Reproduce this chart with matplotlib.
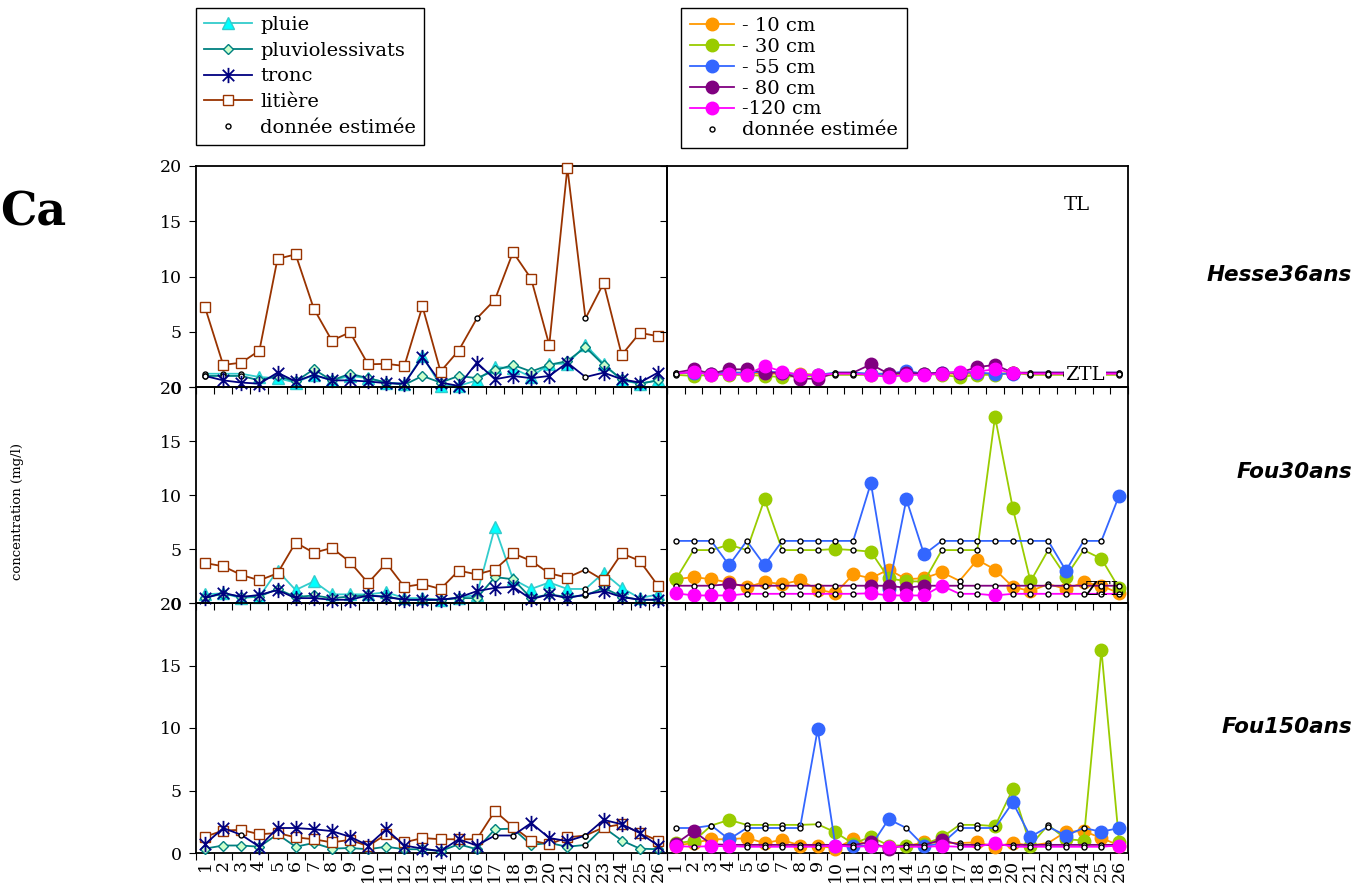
import numpy as np
import matplotlib
matplotlib.use('Agg')
import matplotlib.pyplot as plt
from matplotlib.lines import Line2D
from matplotlib.path import Path

plt.rcParams['font.family'] = ['DejaVu Serif']

x = np.arange(1, 27)

# --- Hesse36ans (gauche) : apports
h36_pluie = [1.2, 1.2, 1.2, 0.9, 0.8, 0.4, 1.1, 0.6, 1.0, 0.8, 0.4, 0.3, 2.8, 0.1, 0.1, 0.6, 1.8, 1.7, 0.9, 2.1, 2.1, 3.8, 2.1, 0.6, 0.3, 0.6]
h36_pluvio = [1.0, 1.0, 1.0, 0.6, 1.0, 0.5, 1.6, 0.6, 1.2, 0.8, 0.4, 0.2, 1.0, 0.4, 1.0, 0.8, 1.5, 2.0, 1.4, 2.0, 2.35, 3.6, 2.0, 0.7, 0.3, 0.6]
h36_tronc = [1.0, 0.6, 0.4, 0.3, 1.3, 0.5, 1.1, 0.6, 0.6, 0.5, 0.35, 0.3, 2.7, 0.4, 0.1, 2.2, 0.7, 1.0, 0.8, 1.0, 2.2, 0.9, 1.3, 0.7, 0.4, 1.3]
h36_litiere = [7.2, 2.0, 2.2, 3.3, 11.6, 12.0, 7.1, 4.2, 4.95, 2.05, 2.1, 1.9, 7.3, 1.4, 3.3, 6.2, 7.9, 12.2, 9.8, 3.8, 19.85, 6.2, 9.4, 2.9, 4.9, 4.6]
h36_pluie_est = [1, 2, 3]
h36_pluvio_est = [1, 2, 3]
h36_tronc_est = [1, 22]
h36_litiere_est = [16, 22]

# --- Fou30ans (gauche)
f30_pluie = [0.8, 0.9, 0.45, 0.6, 3.0, 1.2, 2.0, 0.8, 0.8, 0.8, 1.0, 0.45, 0.45, 0.3, 0.5, 0.75, 7.0, 2.2, 1.3, 1.9, 1.3, 1.3, 2.8, 1.4, 0.45, 0.8]
f30_pluvio = [0.5, 0.85, 0.6, 0.6, 1.3, 0.55, 0.7, 0.45, 0.6, 0.7, 0.6, 0.3, 0.25, 0.3, 0.45, 0.45, 2.4, 2.2, 0.45, 0.8, 0.55, 0.7, 1.4, 0.6, 0.3, 0.3]
f30_tronc = [0.45, 0.95, 0.55, 0.75, 1.2, 0.45, 0.45, 0.3, 0.3, 0.7, 0.55, 0.3, 0.3, 0.3, 0.5, 1.1, 1.4, 1.5, 0.35, 0.8, 0.45, 0.8, 1.1, 0.55, 0.3, 0.3]
f30_litiere = [3.7, 3.4, 2.6, 2.1, 2.75, 5.6, 4.65, 5.1, 3.8, 1.85, 3.7, 1.5, 1.75, 1.3, 3.0, 2.65, 3.1, 4.6, 3.9, 2.75, 2.35, 3.1, 2.1, 4.6, 3.9, 1.6]
f30_gauche_est = [22]

# --- Fou150ans (gauche)
f150_pluvio = [0.35, 0.6, 0.6, 0.5, 1.5, 0.5, 0.8, 0.35, 0.4, 0.3, 0.5, 0.3, 0.3, 0.15, 0.7, 0.3, 1.9, 1.95, 0.65, 0.8, 0.5, 0.65, 2.05, 1.0, 0.35, 0.3]
f150_tronc = [0.7, 2.0, 1.45, 0.5, 2.0, 2.0, 1.9, 1.75, 1.3, 0.6, 1.9, 0.6, 0.35, 0.15, 1.1, 0.6, 1.4, 1.4, 2.4, 1.2, 0.95, 1.4, 2.65, 2.3, 1.6, 0.6]
f150_litiere = [1.3, 1.8, 1.85, 1.5, 1.6, 1.25, 1.1, 0.85, 1.05, 0.55, 1.5, 0.85, 1.2, 1.1, 1.1, 1.1, 3.35, 2.1, 1.0, 0.7, 1.25, 1.4, 2.05, 2.3, 1.6, 1.0]
f150_pluvio_est = [22]
f150_tronc_est = [3, 17, 18, 22]
f150_litiere_est = [22]

# --- Hesse36ans (droite) : solutions du sol
h36_10 = [1.2, 1.3, 1.2, 1.3, 1.3, 1.2, 1.2, 1.2, 1.1, 1.2, 1.2, 1.2, 1.2, 1.2, 1.2, 1.2, 1.2, 1.2, 1.2, 1.25, 1.2, 1.2, 1.2, 1.2, 1.2, 1.2]
h36_30 = [1.1, 1.0, 1.1, 1.1, 1.1, 1.0, 0.9, 1.0, 1.0, 1.1, 1.1, 1.1, 1.1, 1.1, 1.2, 1.1, 0.9, 1.1, 1.1, 1.3, 1.1, 1.1, 1.1, 1.1, 1.1, 1.1]
h36_55 = [1.3, 1.3, 1.2, 1.3, 1.3, 1.4, 1.3, 1.1, 1.1, 1.3, 1.3, 1.2, 1.2, 1.45, 1.2, 1.3, 1.3, 1.3, 1.2, 1.2, 1.3, 1.3, 1.3, 1.3, 1.3, 1.3]
h36_80 = [1.3, 1.6, 1.2, 1.6, 1.6, 1.3, 1.3, 0.75, 0.75, 1.3, 1.3, 2.05, 1.2, 1.3, 1.2, 1.3, 1.3, 1.8, 2.0, 1.3, 1.3, 1.3, 1.3, 1.3, 1.3, 1.3]
h36_120 = [1.2, 1.4, 1.1, 1.2, 1.1, 1.9, 1.4, 1.1, 1.1, 1.2, 1.2, 1.1, 0.9, 1.1, 1.1, 1.2, 1.4, 1.4, 1.6, 1.3, 1.2, 1.2, 1.2, 1.2, 1.2, 1.2]
h36_sol_est = [1, 10, 11, 21, 22, 23, 24, 25, 26]

# --- Fou30ans (droite)
f30_10 = [2.2, 2.4, 2.2, 1.9, 1.45, 1.95, 1.75, 2.1, 1.25, 0.9, 2.65, 2.3, 3.1, 2.2, 2.3, 2.85, 2.05, 4.0, 3.1, 1.5, 1.1, 1.75, 1.3, 1.9, 1.6, 0.9]
f30_30 = [2.2, 4.9, 4.9, 5.4, 4.9, 9.6, 4.9, 4.9, 4.9, 5.0, 4.9, 4.75, 2.3, 2.0, 2.0, 4.9, 4.9, 4.9, 17.25, 8.8, 2.0, 4.9, 2.45, 4.9, 4.1, 1.35]
f30_55 = [5.75, 5.75, 5.75, 3.5, 5.75, 3.5, 5.75, 5.75, 5.75, 5.75, 5.75, 11.1, 1.3, 9.6, 4.5, 5.75, 5.75, 5.75, 5.75, 5.75, 5.75, 5.75, 3.0, 5.75, 5.75, 9.95]
f30_80 = [1.6, 1.6, 1.6, 1.75, 1.6, 1.6, 1.6, 1.6, 1.6, 1.6, 1.6, 1.6, 1.6, 1.4, 1.6, 1.6, 1.6, 1.6, 1.6, 1.6, 1.6, 1.6, 1.6, 1.6, 1.6, 1.6]
f30_120 = [0.9, 0.7, 0.7, 0.7, 0.85, 0.85, 0.85, 0.85, 0.85, 0.85, 0.85, 0.9, 0.7, 0.7, 0.7, 1.6, 0.85, 0.85, 0.7, 0.85, 0.85, 0.85, 0.85, 0.85, 0.85, 0.85]
f30_10_est = [17, 22]
f30_30_est = [2, 3, 5, 7, 8, 9, 11, 16, 17, 18, 22, 24]
f30_55_est = [1, 2, 3, 5, 7, 8, 9, 10, 11, 16, 17, 18, 19, 20, 21, 22, 24, 25]
f30_80_est = [1, 2, 3, 5, 6, 7, 8, 9, 10, 11, 16, 17, 18, 19, 20, 21, 22, 23, 24, 25, 26]
f30_120_est = [5, 6, 7, 8, 9, 10, 11, 17, 18, 20, 21, 22, 23, 24, 25, 26]

# --- Fou150ans (droite)
f150_10 = [0.6, 0.8, 1.1, 1.1, 1.2, 0.8, 1.05, 0.6, 0.6, 0.35, 1.1, 0.6, 0.5, 0.55, 0.85, 0.8, 0.8, 0.85, 0.5, 0.8, 0.6, 0.8, 1.7, 1.75, 1.2, 0.6]
f150_30 = [0.8, 0.95, 2.2, 2.65, 2.25, 2.25, 2.25, 2.25, 2.3, 1.65, 0.75, 1.3, 0.6, 0.6, 0.7, 1.25, 2.25, 2.25, 2.15, 5.1, 0.6, 2.25, 1.1, 1.0, 16.25, 0.85]
f150_55 = [2.0, 2.0, 2.2, 1.1, 2.0, 2.0, 2.0, 2.0, 9.9, 0.55, 0.6, 0.55, 2.7, 2.0, 0.55, 0.75, 2.0, 2.0, 2.0, 4.05, 1.3, 2.1, 1.4, 2.0, 1.7, 2.0]
f150_80 = [0.75, 1.75, 0.7, 0.65, 0.65, 0.65, 0.65, 0.65, 0.65, 0.65, 0.65, 0.85, 0.35, 0.65, 0.65, 1.05, 0.65, 0.65, 0.65, 0.65, 0.65, 0.65, 0.65, 0.65, 0.65, 0.65]
f150_120 = [0.55, 0.5, 0.55, 0.55, 0.5, 0.5, 0.5, 0.5, 0.5, 0.6, 0.5, 0.55, 0.5, 0.5, 0.5, 0.55, 0.5, 0.5, 0.8, 0.5, 0.5, 0.5, 0.5, 0.5, 0.5, 0.6]
f150_10_est = [14, 16, 17, 21, 22]
f150_30_est = [3, 5, 6, 7, 8, 9, 17, 18, 22]
f150_55_est = [1, 2, 3, 5, 6, 7, 8, 14, 17, 18, 19, 22, 24]
f150_80_est = [3, 4, 5, 6, 7, 8, 9, 10, 11, 14, 15, 17, 18, 19, 20, 21, 22, 23, 24, 25, 26]
f150_120_est = [2, 5, 6, 7, 8, 9, 11, 14, 15, 17, 18, 20, 21, 22, 23, 24, 25]

sites = ['Hesse36ans', 'Fou30ans', 'Fou150ans']
profondeurs = ['- 10 cm', '- 30 cm', '- 55 cm', '- 80 cm', '-120 cm']

# marqueur "étoile" d'Excel : croix + trait vertical
star = Path([(0, -1), (0, 1), (-0.75, -0.75), (0.75, 0.75), (-0.75, 0.75), (0.75, -0.75)],
            [Path.MOVETO, Path.LINETO] * 3)

st_pluie = dict(color='#33CCCC', marker='^', ms=8, mfc='#00FFFF', mec='#33CCCC', mew=1)
st_pluvio = dict(color='#008080', marker='D', ms=5, mfc='#CCFFCC', mec='#008080', mew=1)
st_tronc = dict(color='#000080', marker=star, ms=11, mfc='none', mec='#000080', mew=1.3)
st_litiere = dict(color='#993300', marker='s', ms=7, mfc='white', mec='#993300', mew=1)
col_sol = ['#FF9900', '#99CC00', '#3366FF', '#800080', '#FF00FF']


def trace(ax, vals, est, st, z):
    v = np.array(vals)
    m = np.ones(len(v), bool)
    m[np.array(est, int) - 1] = False
    ax.plot(x, v, color=st['color'], lw=1.3, zorder=z, clip_on=False)
    ax.plot(x[m], v[m], ls='none', marker=st['marker'], ms=st['ms'], mfc=st['mfc'],
            mec=st['mec'], mew=st['mew'], zorder=z, clip_on=False)
    ax.plot(x[~m], v[~m], ls='none', marker='o', ms=3.6, mfc='white', mec='black',
            mew=1, zorder=z + 0.5, clip_on=False)


def sol(c):
    return dict(color=c, marker='o', ms=9, mfc=c, mec=c, mew=1)


W, H = 1371, 891


def box(l, t, r, b):
    return [l / W, 1 - b / H, (r - l) / W, (b - t) / H]


rows = [(166, 387), (387, 603), (603, 853)]
cols = [(196, 667), (667, 1128)]

fig = plt.figure(figsize=(13.71, 8.91), dpi=100)
axes = []
for i, (t, b) in enumerate(rows):
    row = []
    for j, (l, r) in enumerate(cols):
        ax = fig.add_axes(box(l, t, r, b))
        ax.set_xlim(0.5, 26.5)
        ax.set_ylim(0, 20)
        ax.set_yticks([0, 5, 10, 15, 20])
        ax.set_xticks(np.arange(0.5, 27, 1))
        ax.set_xticks(x, minor=True)
        ax.tick_params(axis='x', which='major', direction='out', length=5, labelbottom=False)
        ax.tick_params(axis='x', which='minor', length=0, labelbottom=(i == 2),
                       labelrotation=90, labelsize=12.5, pad=5)
        if i == 2:
            ax.set_xticklabels([str(k) for k in x], minor=True)
        ax.tick_params(axis='y', direction='out', length=5, labelsize=12.5, pad=5,
                       labelleft=(j == 0))
        for s in ax.spines.values():
            s.set_linewidth(1.3)
        ax.patch.set_alpha(0)
        row.append(ax)
    axes.append(row)

# gauche
a = axes[0][0]
trace(a, h36_pluie, h36_pluie_est, st_pluie, 3)
trace(a, h36_pluvio, h36_pluvio_est, st_pluvio, 4)
trace(a, h36_tronc, h36_tronc_est, st_tronc, 5)
trace(a, h36_litiere, h36_litiere_est, st_litiere, 6)

a = axes[1][0]
trace(a, f30_pluie, f30_gauche_est, st_pluie, 3)
trace(a, f30_pluvio, f30_gauche_est, st_pluvio, 4)
trace(a, f30_tronc, f30_gauche_est, st_tronc, 5)
trace(a, f30_litiere, f30_gauche_est, st_litiere, 6)

a = axes[2][0]
trace(a, f150_pluvio, f150_pluvio_est, st_pluvio, 4)
trace(a, f150_litiere, f150_litiere_est, st_litiere, 5)
trace(a, f150_tronc, f150_tronc_est, st_tronc, 6)

# droite
for k, v in enumerate([h36_10, h36_30, h36_55, h36_80, h36_120]):
    trace(axes[0][1], v, h36_sol_est, sol(col_sol[k]), 3 + k)
for k, (v, e) in enumerate(zip([f30_10, f30_30, f30_55, f30_80, f30_120],
                               [f30_10_est, f30_30_est, f30_55_est, f30_80_est, f30_120_est])):
    trace(axes[1][1], v, e, sol(col_sol[k]), 3 + k)
for k, (v, e) in enumerate(zip([f150_10, f150_30, f150_55, f150_80, f150_120],
                               [f150_10_est, f150_30_est, f150_55_est, f150_80_est, f150_120_est])):
    trace(axes[2][1], v, e, sol(col_sol[k]), 3 + k)

# légendes
est_h = Line2D([], [], ls='none', marker='o', ms=3.6, mfc='white', mec='black', mew=1)
h1 = [Line2D([], [], color=s['color'], lw=1.3, marker=s['marker'], ms=s['ms'], mfc=s['mfc'],
             mec=s['mec'], mew=s['mew']) for s in [st_pluie, st_pluvio, st_tronc, st_litiere]]
leg1 = fig.legend(h1 + [est_h], ['pluie', 'pluviolessivats', 'tronc', 'litière', 'donnée estimée'],
                  loc='upper left', bbox_to_anchor=(196 / W, 1 - 8 / H), borderaxespad=0,
                  fancybox=False, edgecolor='black', framealpha=1, fontsize=14,
                  handlelength=2.5, handletextpad=0.4, labelspacing=0.4, borderpad=0.4)
leg1.get_frame().set_linewidth(1)
h2 = [Line2D([], [], color=c, lw=1.3, marker='o', ms=9, mfc=c, mec=c) for c in col_sol]
leg2 = fig.legend(h2 + [est_h], profondeurs + ['donnée estimée'],
                  loc='upper left', bbox_to_anchor=(681 / W, 1 - 8 / H), borderaxespad=0,
                  fancybox=False, edgecolor='black', framealpha=1, fontsize=14,
                  handlelength=2.3, handletextpad=0.4, labelspacing=0.15, borderpad=0.45)
leg2.get_frame().set_linewidth(1)

# textes
fig.text(0, 1 - 212 / H, 'Ca', fontsize=33, fontweight='bold', va='center', ha='left')
fig.text(18 / W, 1 - 511 / H, 'concentration (mg/l)', rotation=90, fontsize=9.5,
         ha='center', va='center')
for name, yc in zip(sites, [275, 472, 727]):
    fig.text(1352 / W, 1 - yc / H, name, ha='right', va='center', fontsize=15.5,
             fontweight='bold', fontstyle='italic', family='DejaVu Sans')
fig.text(1064 / W, 1 - 205 / H, 'TL', fontsize=14, va='center', ha='left')
fig.text(1065 / W, 1 - 375 / H, 'ZTL', fontsize=14, va='center', ha='left', zorder=10,
         bbox=dict(facecolor='white', edgecolor='none', pad=1))
fig.text(1084 / W, 1 - 590 / H, 'ZTL', fontsize=14, va='center', ha='left', zorder=10)

fig.savefig('out.png', dpi=100)
